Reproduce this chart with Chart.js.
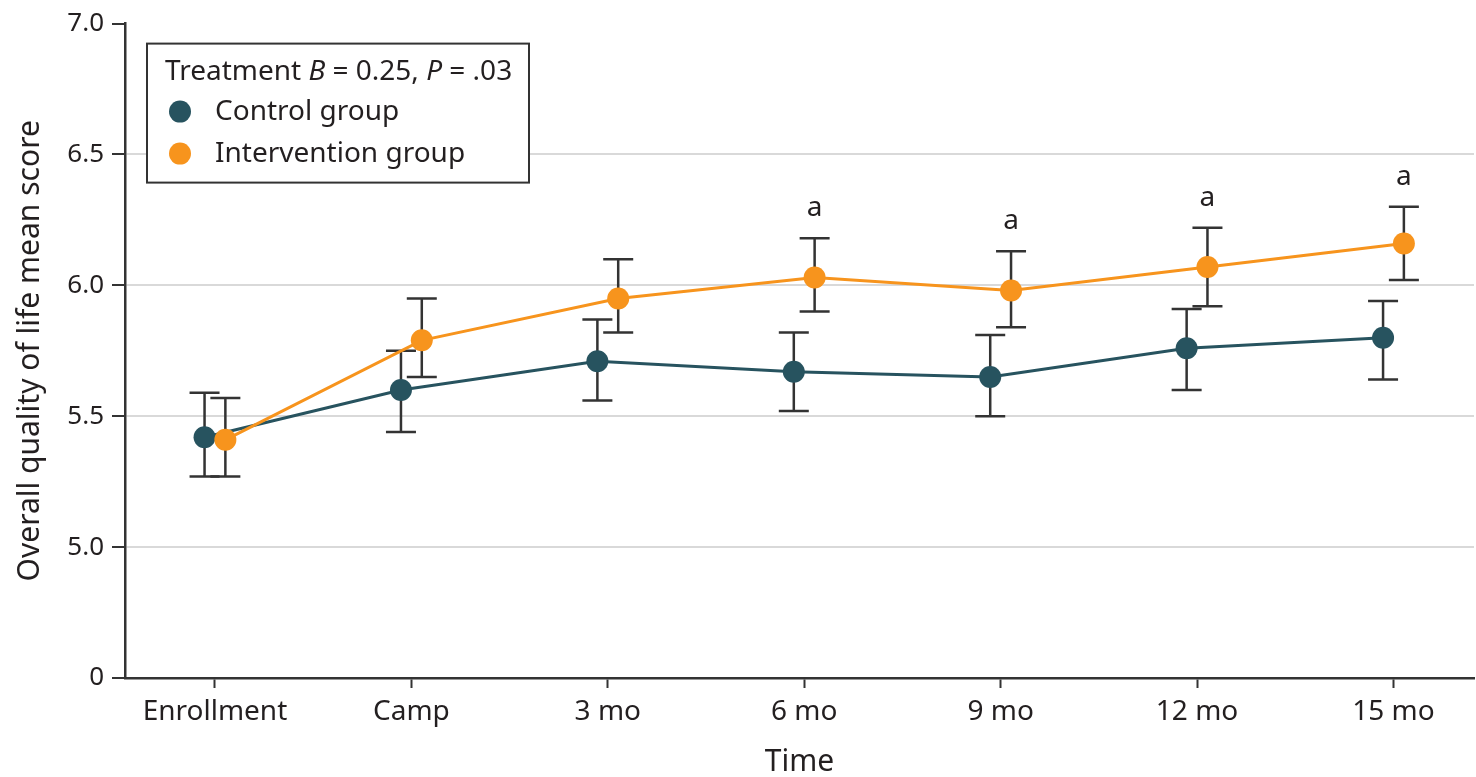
<!DOCTYPE html>
<html>
<head>
<meta charset="utf-8">
<script src="https://cdn.jsdelivr.net/npm/chart.js@4"></script>
<style>
  html, body { margin: 0; padding: 0; background: #fff; }
  #wrap { width: 1476px; height: 777px; }
</style>
</head>
<body>
<div id="wrap"><canvas id="chart" width="1476" height="777"></canvas></div>
<script>
// dane
const categories = ['Enrollment', 'Camp', '3 mo', '6 mo', '9 mo', '12 mo', '15 mo'];
const controlMean = [5.42, 5.60, 5.71, 5.67, 5.65, 5.76, 5.80];
const controlLow = [5.27, 5.44, 5.56, 5.52, 5.50, 5.60, 5.64];
const controlHigh = [5.59, 5.75, 5.87, 5.82, 5.81, 5.91, 5.94];
const interventionMean = [5.41, 5.79, 5.95, 6.03, 5.98, 6.07, 6.16];
const interventionLow = [5.27, 5.65, 5.82, 5.90, 5.84, 5.92, 6.02];
const interventionHigh = [5.57, 5.95, 6.10, 6.18, 6.13, 6.22, 6.30];
const significant = [false, false, false, true, true, true, true];
const yTicks = [4.5, 5.0, 5.5, 6.0, 6.5, 7.0];
const yTickLabels = ['0', '5.0', '5.5', '6.0', '6.5', '7.0'];

const CONTROL_COLOR = '#27535f';
const INTERVENTION_COLOR = '#f7941d';
const TEXT_COLOR = '#231f20';
const FONT = "'Noto Sans', sans-serif";
const DODGE = 0.053;

Chart.defaults.font.family = FONT;
Chart.defaults.color = TEXT_COLOR;

/**
 * Rysuje słupki błędów pod punktami.
 */
const errorBars = {
    id: 'errorBars',
    beforeDatasetsDraw(chart) {
        const { ctx, scales: { x, y } } = chart;
        const groups = [
            { low: controlLow, high: controlHigh, shift: -DODGE },
            { low: interventionLow, high: interventionHigh, shift: DODGE }
        ];
        ctx.save();
        ctx.strokeStyle = '#333';
        ctx.lineWidth = 2.5;
        groups.forEach(g => {
            g.low.forEach((lo, i) => {
                const px = x.getPixelForValue(i + g.shift);
                const yl = y.getPixelForValue(lo);
                const yh = y.getPixelForValue(g.high[i]);
                ctx.beginPath();
                ctx.moveTo(px, yl); ctx.lineTo(px, yh);
                ctx.moveTo(px - 15, yl); ctx.lineTo(px + 15, yl);
                ctx.moveTo(px - 15, yh); ctx.lineTo(px + 15, yh);
                ctx.stroke();
            });
        });
        ctx.restore();
    },
    afterDatasetsDraw(chart) {
        // oznaczenia "a" nad istotnymi punktami
        const { ctx, scales: { x, y } } = chart;
        ctx.save();
        ctx.fillStyle = TEXT_COLOR;
        ctx.font = `28px ${FONT}`;
        ctx.textAlign = 'center';
        ctx.textBaseline = 'middle';
        significant.forEach((s, i) => {
            if (!s) return;
            const px = x.getPixelForValue(i + DODGE);
            const py = y.getPixelForValue(interventionHigh[i]) - 30;
            ctx.fillText('a', px, py);
        });
        ctx.restore();
    }
};

/**
 * Własna legenda z ramką i tytułem (kursywa B i P).
 */
const boxLegend = {
    id: 'boxLegend',
    afterDraw(chart) {
        const { ctx, chartArea } = chart;
        const bx = chartArea.left + 22, by = chartArea.top + 20;
        ctx.save();
        ctx.fillStyle = '#fff';
        ctx.fillRect(bx, by, 382, 139);
        ctx.strokeStyle = '#333';
        ctx.lineWidth = 2;
        ctx.strokeRect(bx, by, 382, 139);

        ctx.fillStyle = TEXT_COLOR;
        ctx.textBaseline = 'middle';
        ctx.textAlign = 'left';
        const parts = [
            ['Treatment ', false], ['B', true], [' = 0.25, ', false], ['P', true], [' = .03', false]
        ];
        let tx = bx + 18;
        parts.forEach(([t, it]) => {
            ctx.font = `${it ? 'italic ' : ''}28px ${FONT}`;
            ctx.fillText(t, tx, by + 28);
            tx += ctx.measureText(t).width;
        });

        ctx.font = `28px ${FONT}`;
        chart.data.datasets.forEach((ds, i) => {
            const cy = by + 68 + i * 42;
            ctx.beginPath();
            ctx.arc(bx + 33, cy, 11, 0, Math.PI * 2);
            ctx.fillStyle = ds.backgroundColor;
            ctx.fill();
            ctx.fillStyle = TEXT_COLOR;
            ctx.fillText(ds.label, bx + 68, cy);
        });
        ctx.restore();
    }
};

const toPoints = (arr, shift) => arr.map((v, i) => ({ x: i + shift, y: v }));

new Chart(document.getElementById('chart'), {
    type: 'line',
    data: {
        datasets: [
            {
                label: 'Control group',
                data: toPoints(controlMean, -DODGE),
                borderColor: CONTROL_COLOR,
                backgroundColor: CONTROL_COLOR,
                borderWidth: 3,
                pointRadius: 11,
                pointBorderWidth: 0,
                order: 1
            },
            {
                label: 'Intervention group',
                data: toPoints(interventionMean, DODGE),
                borderColor: INTERVENTION_COLOR,
                backgroundColor: INTERVENTION_COLOR,
                borderWidth: 3,
                pointRadius: 11,
                pointBorderWidth: 0,
                order: 0
            }
        ]
    },
    options: {
        responsive: false,
        animation: false,
        devicePixelRatio: 1,
        layout: { autoPadding: false, padding: { top: 22, right: 2, left: 0, bottom: 0 } },
        plugins: { legend: { display: false }, tooltip: { enabled: false } },
        scales: {
            x: {
                type: 'linear',
                min: -0.458,
                max: 6.41,
                afterBuildTicks: scale => { scale.ticks = categories.map((c, i) => ({ value: i })); },
                afterFit: scale => { scale.height = 99; },
                ticks: {
                    callback: v => categories[v],
                    font: { size: 28 },
                    color: TEXT_COLOR,
                    padding: 7,
                    maxRotation: 0
                },
                grid: { drawOnChartArea: false, tickColor: '#333', tickLength: 10, tickWidth: 2 },
                border: { color: '#333', width: 2.5 },
                title: { display: true, text: 'Time', font: { size: 30 }, color: TEXT_COLOR, padding: { top: 0, bottom: -3 } }
            },
            y: {
                min: 4.5,
                max: 7.0,
                afterBuildTicks: scale => { scale.ticks = yTicks.map(v => ({ value: v })); },
                afterFit: scale => { scale.width = 125; },
                ticks: {
                    callback: (v, i) => yTickLabels[i],
                    font: { size: 26 },
                    color: TEXT_COLOR,
                    padding: 8
                },
                grid: {
                    color: c => (c.tick && (c.tick.value === 7 || c.tick.value === 4.5)) ? 'rgba(0,0,0,0)' : '#d9d9d9',
                    lineWidth: 2,
                    tickColor: '#333',
                    tickLength: 13,
                    tickWidth: 2
                },
                border: { color: '#333', width: 2.5 },
                title: {
                    display: true,
                    text: 'Overall quality of life mean score',
                    font: { size: 30 },
                    color: TEXT_COLOR,
                    padding: { top: 12, bottom: 0 }
                }
            }
        }
    },
    plugins: [errorBars, boxLegend]
});
</script>
</body>
</html>
